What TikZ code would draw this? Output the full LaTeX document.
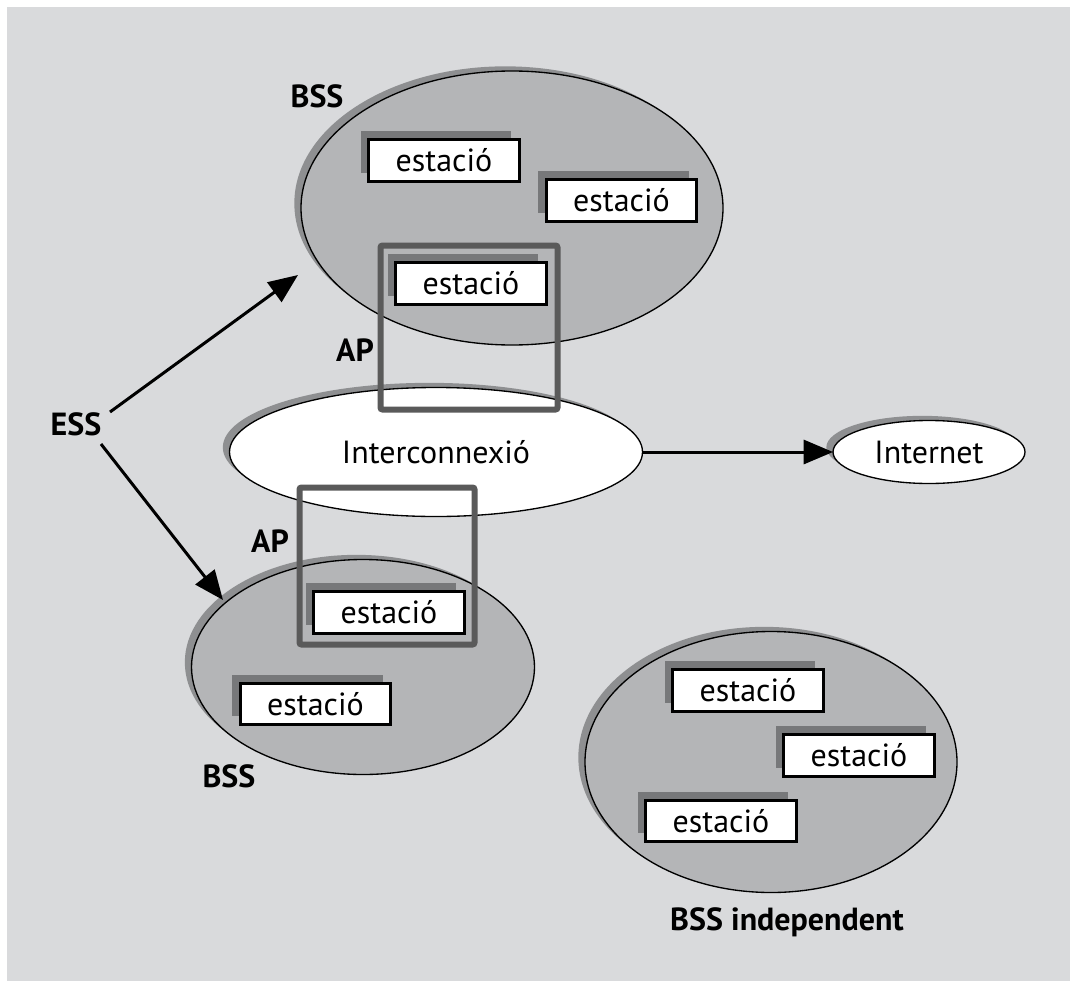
\documentclass[tikz,border=0pt]{standalone}
\usepackage{fontspec}
\setmainfont{PT Sans}
\usetikzlibrary{shapes.geometric, shadows, arrows.meta}

\definecolor{bgc}{HTML}{D9DADC}
\definecolor{cellfill}{HTML}{B4B5B7}
\definecolor{cellshade}{HTML}{8E8F91}
\definecolor{boxshade}{HTML}{77787A}
\definecolor{apline}{HTML}{5A5A5A}

\tikzset{
  txt/.style={font=\fontsize{24}{28}\selectfont, inner sep=0pt, outer sep=0pt},
  lbl/.style={txt, font=\fontsize{24}{28}\selectfont\bfseries},
  cell/.style={ellipse, draw=black, line width=1pt, fill=cellfill, inner sep=0pt, outer sep=0pt,
    general shadow={shadow xshift=-5pt, shadow yshift=3.5pt, fill=cellshade}},
  whitecell/.style={cell, fill=white},
  station/.style={rectangle, draw=black, line width=2.25pt, fill=white, txt,
    minimum width=113pt, minimum height=31pt,
    general shadow={shadow xshift=-6pt, shadow yshift=6.5pt, fill=boxshade}},
  apbox/.style={rectangle, draw=apline, line width=4.5pt, rounded corners=1.5pt,
    inner sep=0pt, outer sep=0pt},
  link/.style={line width=2.25pt, -{Triangle[length=22pt, width=18pt]}}
}

\begin{document}
\begin{tikzpicture}[x=0.75pt, y=-0.75pt]
  % page and grey panel
  \useasboundingbox (0,0) rectangle (1070,981);
  \fill[white] (0,0) rectangle (1070,981);
  \fill[bgc] (7,7) rectangle (1070,981);

  % basic service sets
  \node[cell, minimum width=316.5pt, minimum height=205.5pt] (bssA) at (512,208) {};
  \node[cell, minimum width=257.25pt, minimum height=161.25pt] (bssB) at (363,667) {};
  \node[cell, minimum width=279pt, minimum height=195.75pt] (bssI) at (771,762) {};

  % distribution system and Internet
  \node[whitecell, minimum width=309.75pt, minimum height=96.75pt] (inter) at (436,452) {};
  \node[txt] at (inter.center) {Interconnexió};
  \node[whitecell, minimum width=144pt, minimum height=47.25pt] (inet) at (929,452) {};
  \node[txt] at (inet.center) {Internet};

  % stations
  \node[station] (a1) at (444,160.5) {estació};
  \node[station] (a2) at (621.5,200.5) {estació};
  \node[station] (a3) at (471,283.5) {estació};
  \node[station] (b1) at (389,612.5) {estació};
  \node[station] (b2) at (315.5,704) {estació};
  \node[station] (i1) at (748,690.5) {estació};
  \node[station] (i2) at (859,755.5) {estació};
  \node[station] (i3) at (721,821) {estació};

  % access points
  \node[apbox, minimum width=132.75pt, minimum height=123pt] (apA) at (469,327.5) {};
  \node[apbox, minimum width=131.25pt, minimum height=117.75pt] (apB) at (387,566) {};

  % labels
  \node[lbl] (lbssA) at (317,96) {BSS};
  \node[lbl] (lapA) at (355,350) {AP};
  \node[lbl] (lapB) at (270,541) {AP};
  \node[lbl] (ess) at (76,424) {ESS};
  \node[lbl] (lbssB) at (229,776) {BSS};
  \node[lbl] (lbssI) at (787,922) {BSS independent};

  % connectors
  \coordinate (tipA) at (298,275);
  \coordinate (tipB) at (223,600);
  \draw[link] (ess) ++(34,-12) -- (tipA);
  \draw[link] (ess) ++(25,20) -- (tipB);
  \draw[link] (inter.east) -- (inet.west);
\end{tikzpicture}
\end{document}
